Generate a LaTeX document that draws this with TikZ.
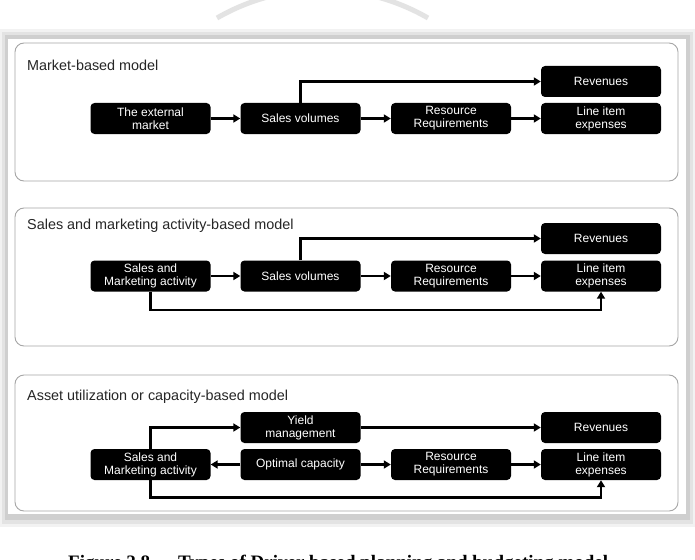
\documentclass[tikz,border=0pt]{standalone}
\usepackage{fontspec}
\setmainfont{Liberation Sans}
\newfontfamily\capfont{Liberation Serif}
\usetikzlibrary{arrows.meta}
\begin{document}
\begin{tikzpicture}[x=1pt,y=-1pt,
  blk/.style={fill=black, rounded corners=4pt, minimum width=120pt, minimum height=31pt,
    text=white, font=\fontsize{12}{13}\selectfont, align=center, inner sep=1pt},
  panel/.style={draw=gray!70, line width=0.9pt, rounded corners=9pt, fill=white},
  ttl/.style={anchor=base west, font=\fontsize{14.4}{16}\selectfont, text=black!85, inner sep=0pt},
  arr/.style={line width=2.2pt, -{Triangle[length=7pt,width=8pt]}},
  ln/.style={line width=2.2pt}]
\useasboundingbox (0,0) rectangle (695,559);
\fill[white] (0,0) rectangle (695,559);
% watermark arc
\draw[gray!22, line width=5pt] (217,18) arc[start angle=-120, end angle=-60, radius=211];
% outer frame with shadow
\fill[gray!10] (0,29) rectangle (695,527);
\fill[gray!22] (2,32) rectangle (693,524);
\fill[gray!38] (5,35) rectangle (690,520);
\fill[white] (8,39) rectangle (686,514);
% panels
\draw[panel] (15,43) rectangle (678,181);
\draw[panel] (15,208) rectangle (678,346);
\draw[panel] (15,375) rectangle (678,511);
% titles
\node[ttl] (t1) at (27,71) {Market-based model};
\node[ttl] (t2) at (27,229) {Sales and marketing activity-based model};
\node[ttl] (t3) at (27,400) {Asset utilization or capacity-based model};
% panel 1
\node[blk] (rev1) at (601,81.5) {Revenues};
\node[blk] (ext1) at (150.5,118.5) {The external\\market};
\node[blk] (sv1) at (300.5,118.5) {Sales volumes};
\node[blk] (rr1) at (451,118.5) {Resource\\Requirements};
\node[blk] (li1) at (601,118.5) {Line item\\expenses};
\draw[arr] (ext1) -- (sv1);
\draw[arr] (sv1) -- (rr1);
\draw[arr] (rr1) -- (li1);
\draw[arr] (sv1.north) |- (rev1.west);
% panel 2
\node[blk] (rev2) at (601,238.5) {Revenues};
\node[blk] (sm2) at (150.5,276) {Sales and\\Marketing activity};
\node[blk] (sv2) at (300.5,276) {Sales volumes};
\node[blk] (rr2) at (451,276) {Resource\\Requirements};
\node[blk] (li2) at (601,276) {Line item\\expenses};
\draw[arr] (sm2) -- (sv2);
\draw[arr] (sv2) -- (rr2);
\draw[arr] (rr2) -- (li2);
\draw[arr] (sv2.north) |- (rev2.west);
\coordinate (b2) at (150.5,310);
\draw[arr] (sm2.south) -- (b2) -| (li2.south);
% panel 3
\node[blk] (ym3) at (300.5,427.5) {Yield\\management};
\node[blk] (rev3) at (601,427.5) {Revenues};
\node[blk] (sm3) at (150.5,464.5) {Sales and\\Marketing activity};
\node[blk] (oc3) at (300.5,464.5) {Optimal capacity};
\node[blk] (rr3) at (451,464.5) {Resource\\Requirements};
\node[blk] (li3) at (601,464.5) {Line item\\expenses};
\draw[arr] (sm3.north) |- (ym3.west);
\draw[arr] (ym3) -- (rev3);
\draw[arr] (oc3) -- (sm3);
\draw[arr] (oc3) -- (rr3);
\draw[arr] (rr3) -- (li3);
\coordinate (b3) at (150.5,497.5);
\draw[arr] (sm3.south) -- (b3) -| (li3.south);
% caption (cut off by page edge)
\node[anchor=base west, inner sep=0pt, font=\capfont\bfseries\fontsize{19}{22}\selectfont] (c1) at (68,568) {Figure 2.8};
\node[anchor=base west, inner sep=0pt, font=\capfont\bfseries\fontsize{19}{22}\selectfont] (c2) at (178,568) {Types of Driver based planning and budgeting model};
\end{tikzpicture}
\end{document}
